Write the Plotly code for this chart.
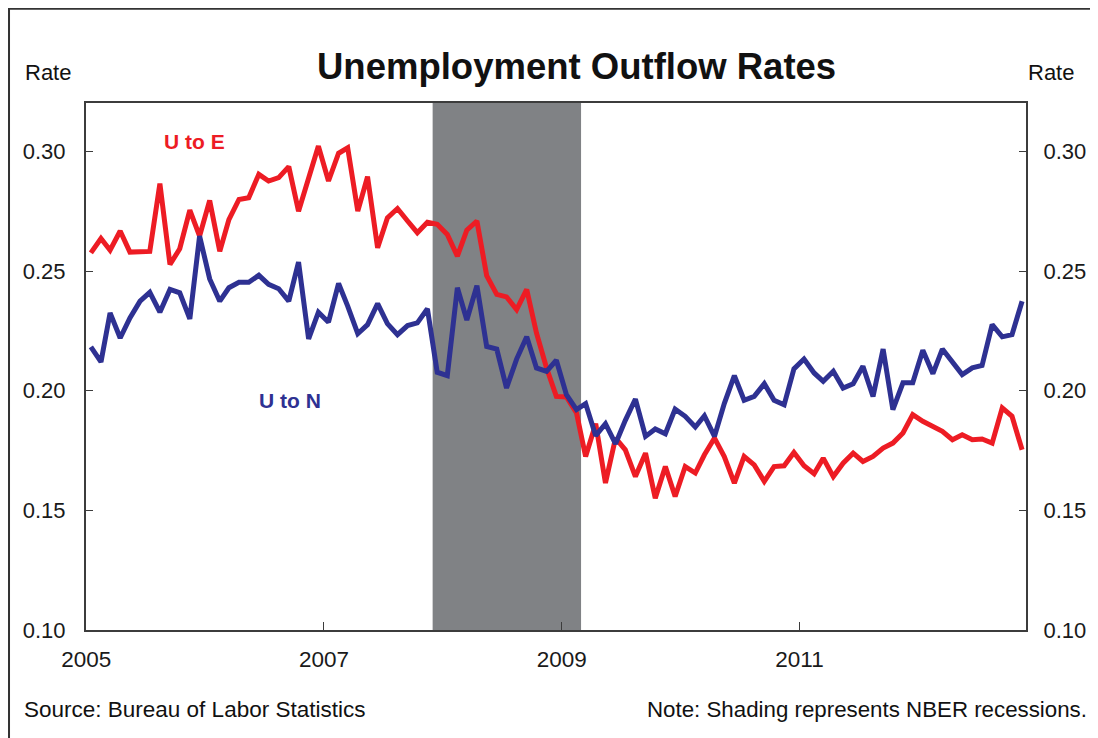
import plotly.graph_objects as go
import pandas as pd

# monthly observations, Jan 2005 - Nov 2012
months = pd.date_range("2005-01-01", periods=95, freq="MS") + pd.Timedelta(days=14)

u_to_e = [
    0.2576, 0.2636, 0.2587, 0.2667, 0.2579, 0.2581, 0.2582, 0.2865, 0.2527, 0.2593,
    0.2754, 0.2646, 0.2795, 0.2582, 0.2715, 0.2799, 0.2806, 0.2904, 0.2876, 0.2890,
    0.2936, 0.2750, 0.2886, 0.3022, 0.2876, 0.2992, 0.3015, 0.2750, 0.2894, 0.2597,
    0.2722, 0.2761, 0.2709, 0.2660, 0.2704, 0.2695, 0.2653, 0.2562, 0.2671, 0.2709,
    0.2481, 0.2402, 0.2392, 0.2339, 0.2423, 0.2241, 0.2095, 0.1976, 0.1974, 0.1907,
    0.1725, 0.1862, 0.1614, 0.1802, 0.1753, 0.1641, 0.1739, 0.1551, 0.1683, 0.1558,
    0.1683, 0.1656, 0.1732, 0.1802, 0.1725, 0.1614, 0.1725, 0.1690, 0.1621, 0.1683,
    0.1686, 0.1742, 0.1686, 0.1653, 0.1718, 0.1641, 0.1697, 0.1739, 0.1704, 0.1725,
    0.1760, 0.1781, 0.1823, 0.1900, 0.1872, 0.1851, 0.1830, 0.1795, 0.1816, 0.1795,
    0.1798, 0.1781, 0.1928, 0.1893, 0.1753,
]

u_to_n = [
    0.2183, 0.2120, 0.2325, 0.2220, 0.2304, 0.2374, 0.2411, 0.2328, 0.2423, 0.2409,
    0.2300, 0.2646, 0.2467, 0.2374, 0.2430, 0.2453, 0.2453, 0.2482, 0.2444, 0.2426,
    0.2374, 0.2537, 0.2216, 0.2328, 0.2286, 0.2448, 0.2353, 0.2238, 0.2276, 0.2364,
    0.2280, 0.2234, 0.2272, 0.2283, 0.2342, 0.2077, 0.2063, 0.2430, 0.2295, 0.2439,
    0.2185, 0.2174, 0.2011, 0.2132, 0.2225, 0.2095, 0.2081, 0.2127, 0.1983, 0.1921,
    0.1946, 0.1812, 0.1862, 0.1778, 0.1876, 0.1965, 0.1809, 0.1840, 0.1820, 0.1923,
    0.1893, 0.1848, 0.1895, 0.1809, 0.1946, 0.2063, 0.1960, 0.1976, 0.2029, 0.1960,
    0.1941, 0.2091, 0.2132, 0.2074, 0.2039, 0.2081, 0.2011, 0.2029, 0.2102, 0.1976,
    0.2174, 0.1921, 0.2033, 0.2033, 0.2169, 0.2071, 0.2174, 0.2116, 0.2067, 0.2095,
    0.2105, 0.2276, 0.2225, 0.2234, 0.2374,
]

recession = ("2007-12-01", "2009-03-01")
y_ticks = [0.10, 0.15, 0.20, 0.25, 0.30]
x_ticks = ["2005-01-01", "2007-01-01", "2009-01-01", "2011-01-01"]
x_labels = ["2005", "2007", "2009", "2011"]

RED = "#ed1c24"
BLUE = "#2e3192"
AXIS = "#3c3c3c"
FONT = "Liberation Sans, Arial, sans-serif"

fig = go.Figure()
fig.add_trace(go.Scatter(x=months, y=u_to_e, mode="lines", name="U to E",
                         line=dict(color=RED, width=5)))
fig.add_trace(go.Scatter(x=months, y=u_to_n, mode="lines", name="U to N",
                         line=dict(color=BLUE, width=5)))
# invisible copy so the right-hand axis gets drawn
fig.add_trace(go.Scatter(x=months, y=u_to_e, mode="markers", yaxis="y2",
                         marker=dict(opacity=0), hoverinfo="skip", showlegend=False))

# white card with dark border on a light grey page
fig.add_shape(type="rect", xref="paper", yref="paper",
              x0=-0.0819, x1=1.0735, y0=-0.25, y1=1.1790,
              fillcolor="white", line=dict(color="#333333", width=2), layer="below")

# recession shading
fig.add_shape(type="rect", xref="x", yref="paper",
              x0=recession[0], x1=recession[1], y0=0, y1=1,
              fillcolor="#808285", line=dict(width=0), layer="below")

# the page adds an 8px body margin, so the figure is 8px smaller and shifted
fig.update_layout(
    width=1090, height=730,
    margin=dict(l=78, r=72, t=95, b=108, autoexpand=False),
    paper_bgcolor="#e3e4e6",
    plot_bgcolor="white",
    showlegend=False,
    font=dict(family=FONT, color="#1a1a1a", size=22),
)

fig.update_xaxes(
    range=["2004-12-31", "2012-11-27"],
    tickvals=x_ticks, ticktext=x_labels,
    ticks="inside", ticklen=8, tickcolor=AXIS, tickwidth=1,
    showline=True, linecolor=AXIS, linewidth=2, mirror=True,
    showgrid=False, zeroline=False, automargin=False,
    tickfont=dict(size=22.5), ticklabelstandoff=8,
)
fig.update_yaxes(
    range=[0.10, 0.3202],
    tickvals=y_ticks, tickformat=".2f",
    ticks="inside", ticklen=7, tickcolor=AXIS, tickwidth=1,
    showline=True, linecolor=AXIS, linewidth=2,
    showgrid=False, zeroline=False, automargin=False,
    tickfont=dict(size=22), ticklabelstandoff=14,
)
fig.update_layout(
    yaxis2=dict(
        overlaying="y", side="right", range=[0.10, 0.3202],
        tickvals=y_ticks, tickformat=".2f",
        ticks="inside", ticklen=7, tickcolor=AXIS, tickwidth=1,
        showline=True, linecolor=AXIS, linewidth=2,
        showgrid=False, zeroline=False, automargin=False,
        tickfont=dict(size=22), ticklabelstandoff=11,
    )
)

annots = [
    dict(text="<b>Unemployment Outflow Rates</b>", x=0.522, y=1.070, size=36.5),
    dict(text="Rate", x=-0.040, y=1.057, size=22),
    dict(text="Rate", x=1.0265, y=1.057, size=22),
]
for a in annots:
    fig.add_annotation(text=a["text"], x=a["x"], y=a["y"], xref="paper", yref="paper",
                       showarrow=False, xanchor="center", yanchor="middle",
                       font=dict(size=a["size"], color="#111111"))

fig.add_annotation(text="Source: Bureau of Labor Statistics", x=-0.068, y=-0.150,
                   xref="paper", yref="paper", showarrow=False,
                   xanchor="left", yanchor="middle", font=dict(size=22.5, color="#111111"))
fig.add_annotation(text="Note: Shading represents NBER recessions.", x=1.067, y=-0.150,
                   xref="paper", yref="paper", showarrow=False,
                   xanchor="right", yanchor="middle", font=dict(size=22.3, color="#111111"))

# series labels
fig.add_annotation(text="<b>U to E</b>", x="2005-11-30", y=0.3042, showarrow=False,
                   font=dict(size=21, color=RED))
fig.add_annotation(text="<b>U to N</b>", x="2006-09-20", y=0.1958, showarrow=False,
                   font=dict(size=21, color=BLUE))

fig.write_html("out.html")
